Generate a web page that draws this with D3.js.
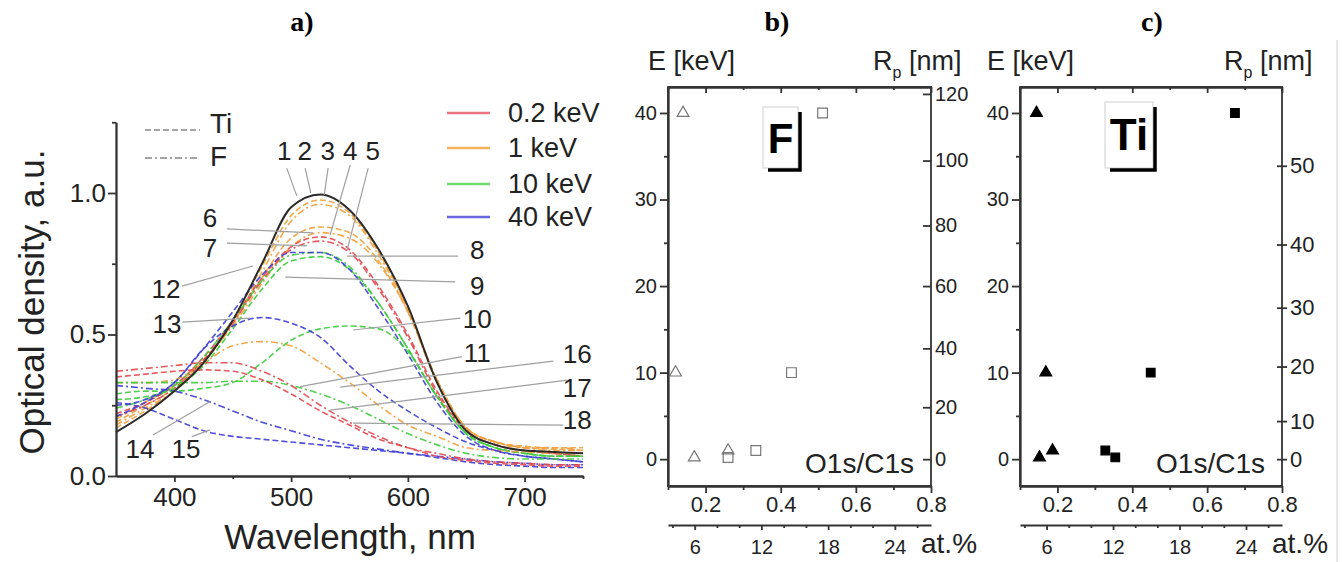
<!DOCTYPE html>
<html><head><meta charset="utf-8">
<script src="https://cdn.jsdelivr.net/npm/d3@7/dist/d3.min.js"></script>
<style>
body{margin:0;background:#fff;}
svg{display:block;}
</style></head><body>
<svg id="fig" width="1343" height="562"></svg>
<script>
// ---------------- DATA: panel a (optical density spectra) ----------------
const wavelengths=[350,375,400,425,450,475,500,525,550,575,600,625,650,675,700,725,750];
const od1 =[.155,.22,.30,.40,.55,.75,.95,.995,.94,.80,.60,.33,.16,.11,.09,.085,.08];
const od2 =[.17,.23,.30,.40,.55,.74,.92,.975,.93,.79,.59,.33,.17,.12,.105,.10,.10];
const od3 =[.18,.24,.30,.40,.54,.72,.90,.96,.92,.78,.59,.34,.17,.12,.10,.10,.09];
const od4 =[.19,.25,.31,.41,.54,.70,.84,.88,.86,.76,.58,.34,.17,.12,.10,.095,.09];
const od5 =[.20,.26,.32,.41,.53,.68,.81,.86,.84,.75,.58,.33,.17,.12,.10,.09,.09];
const od6 =[.22,.26,.32,.42,.55,.70,.81,.845,.80,.67,.50,.30,.16,.11,.09,.08,.07];
const od7 =[.21,.25,.31,.41,.54,.69,.80,.83,.79,.66,.49,.29,.16,.11,.09,.08,.07];
const od8 =[.24,.27,.32,.42,.55,.69,.78,.79,.74,.61,.45,.28,.15,.10,.08,.07,.07];
const od9 =[.27,.28,.31,.39,.52,.66,.76,.775,.73,.61,.45,.28,.15,.10,.08,.07,.07];
const od12=[.21,.26,.33,.45,.58,.71,.79,.79,.73,.59,.43,.26,.14,.09,.07,.06,.05];
const od10=[.29,.30,.30,.31,.33,.40,.48,.52,.53,.52,.44,.28,.15,.10,.08,.07,.07];
const od11=[.33,.33,.34,.40,.46,.475,.46,.40,.33,.25,.18,.14,.10,.09,.085,.08,.08];
const od13=[.25,.27,.33,.45,.53,.56,.54,.49,.39,.30,.23,.17,.12,.09,.07,.06,.05];
const od14=[.32,.31,.30,.27,.23,.19,.16,.13,.11,.095,.08,.07,.06,.05,.045,.04,.04];
const od15=[.26,.24,.20,.16,.14,.13,.12,.11,.10,.09,.08,.065,.05,.04,.035,.03,.03];
const od16=[.33,.33,.33,.33,.335,.335,.32,.29,.25,.20,.15,.11,.08,.065,.06,.06,.06];
const od17=[.37,.38,.39,.40,.40,.37,.32,.25,.19,.14,.10,.08,.06,.05,.045,.04,.04];
const od18=[.35,.36,.37,.375,.37,.34,.29,.23,.18,.13,.10,.07,.055,.045,.04,.035,.035];
const curveIds    =["2","3","4","5","6","7","8","9","12","10","11","13","14","15","16","17","18","1"];
const curveValues =[od2,od3,od4,od5,od6,od7,od8,od9,od12,od10,od11,od13,od14,od15,od16,od17,od18,od1];
const curveEnergy =["1","1","1","1","0.2","0.2","10","10","40","10","1","40","40","40","10","0.2","0.2","ref"];
const curveElement=["Ti","F","Ti","F","Ti","F","F","Ti","Ti","Ti","F","Ti","F","Ti","F","F","Ti","ref"];
const energyKeys  =["0.2","1","10","40"];
const energyLegend=["0.2 keV","1 keV","10 keV","40 keV"];
const elementLegend=["Ti","F"];
const xTicksA=[400,500,600,700], xMinorA=[450,550,650,750];
const yTicksA=[0,0.5,1.0], yMinorA=[0.25,0.75,1.25];
// curve number labels (wavelength, OD of text baseline)
const labelIds=["1","2","3","4","5","6","7","8","9","12","10","11","13","14","15","16","17","18"];
const labelWl =[494,511.6,531.3,550.6,569.9,430.6,430.6,659.4,659.4,392.9,659.4,659.4,393.7,370.6,410,745.1,745.1,745.1];
const labelOd =[1.117,1.117,1.117,1.117,1.117,0.880,0.774,0.767,0.640,0.629,0.523,0.403,0.505,0.064,0.064,0.399,0.279,0.166];
// leader lines from label to curve
const leadWl0=[496.3,512,531.7,550.6,566,445,445,643,640.6,406.6,406.6,644.9,646.3,724.6,736.6,733.1,381.7,414.9];
const leadOd0=[1.087,1.088,1.088,1.099,1.088,0.873,0.823,0.777,0.686,0.671,0.544,0.558,0.422,0.406,0.339,0.180,0.145,0.139];
const leadWl1=[504.9,516.9,528.3,533.4,548,518.9,513.7,548,494.9,467.4,464.9,553.1,507.7,542,533.4,553.1,430.6,430.6];
const leadOd1=[0.989,1.0,0.993,0.852,0.799,0.859,0.813,0.777,0.703,0.742,0.558,0.516,0.316,0.314,0.233,0.187,0.263,0.163];

// ---------------- DATA: panels b and c ----------------
const eTicks=[0,10,20,30,40], eMinor=[5,15,25,35];
const o1sTicks=[0.2,0.4,0.6,0.8], o1sMinor=[0.1,0.3,0.5,0.7];
const atTicks=[6,12,18,24], atMinor=[4,8,10,14,16,20,22,26];
const rpTicksF=[0,20,40,60,80,100,120], rpAtE_F=[0,6.0,12.8,20.0,27.0,34.5,42.2];
const rpTicksTi=[0,10,20,30,40,50], rpAtE_Ti=[0,4.4,10.7,17.5,24.8,33.9];
const fTriO1s=[0.14,0.12,0.17,0.26], fTriE=[40,10,0.2,1];
const fSqAt=[17.5,14.7,11.5,9.0],    fSqE=[40,10,1,0.2];
const tiTriO1s=[0.144,0.169,0.152,0.187], tiTriE=[40,10,0.2,1];
const tiSqAt=[23.0,15.4,11.3,12.2],       tiSqE=[40,10,1,0.2];

// ---------------- STYLE ----------------
const SANS="'Liberation Sans', Arial, Helvetica, sans-serif";
const SERIF="'Liberation Serif', 'Times New Roman', serif";
const AX="#333", TXT="#222";
const energyColor={"0.2":"#e04850","1":"#f0a03c","10":"#3ccc3c","40":"#3c3cd4","ref":"#2a2a2a"};
const legendColor={"0.2":"#ea7480","1":"#f6b05a","10":"#70da70","40":"#6868de"};
const dashFor={"Ti":"6,3","F":"7,3,2,3","ref":null};

const svg=d3.select("#fig");
svg.append("rect").attr("width",1343).attr("height",562).attr("fill","#fff");

function styleAxis(g,fs){
  g.selectAll("path.domain").attr("stroke",AX).attr("stroke-width",1.8);
  g.selectAll(".tick line").attr("stroke",AX).attr("stroke-width",1.8);
  g.selectAll("text").attr("font-family",SANS).attr("font-size",fs).attr("fill",TXT);
  g.attr("font-family",null).attr("font-size",null);
}

// ---------------- PANEL A ----------------
const xA=d3.scaleLinear().domain([350,750]).range([116,583]);
const yA=d3.scaleLinear().domain([0,1.25]).range([476,122.25]);
const gA=svg.append("g");

const line=d3.line().x((d,i)=>xA(wavelengths[i])).y(d=>yA(d)).curve(d3.curveMonotoneX);
curveValues.forEach((vals,k)=>{
  const el=curveElement[k];
  gA.append("path").datum(vals).attr("d",line)
    .attr("fill","none")
    .attr("stroke",energyColor[curveEnergy[k]])
    .attr("stroke-width",el==="ref"?2:1.6)
    .attr("stroke-dasharray",dashFor[el])
    .attr("opacity",el==="ref"?1:0.9);
});

// leaders
leadWl0.forEach((w,i)=>{
  gA.append("line").attr("x1",xA(w)).attr("y1",yA(leadOd0[i])).attr("x2",xA(leadWl1[i])).attr("y2",yA(leadOd1[i]))
    .attr("stroke","#a0a0a0").attr("stroke-width",1.2);
});
// labels
labelIds.forEach((t,i)=>{
  gA.append("text").attr("x",xA(labelWl[i])).attr("y",yA(labelOd[i])).attr("text-anchor","middle")
    .attr("font-family",SANS).attr("font-size",26).attr("fill",TXT).text(t);
});

// axes
const axXA=gA.append("g").attr("transform","translate(0,476)")
  .call(d3.axisBottom(xA).tickValues(xTicksA).tickSize(6).tickPadding(6).tickSizeOuter(0).tickFormat(d3.format("d")));
styleAxis(axXA,26);
const axXAm=gA.append("g").attr("transform","translate(0,476)")
  .call(d3.axisBottom(xA).tickValues(xMinorA).tickSize(3).tickSizeOuter(0).tickFormat(""));
styleAxis(axXAm,10);
const axYA=gA.append("g").attr("transform","translate(116,0)")
  .call(d3.axisLeft(yA).tickValues(yTicksA).tickSize(8).tickPadding(2).tickSizeOuter(0).tickFormat(d3.format(".1f")));
styleAxis(axYA,26);
const axYAm=gA.append("g").attr("transform","translate(116,0)")
  .call(d3.axisLeft(yA).tickValues(yMinorA).tickSize(4).tickSizeOuter(0).tickFormat(""));
styleAxis(axYAm,10);

gA.append("text").attr("x",350).attr("y",549).attr("text-anchor","middle")
  .attr("font-family",SANS).attr("font-size",35).attr("fill",TXT).text("Wavelength, nm");
gA.append("text").attr("transform","translate(44,302) rotate(-90)").attr("text-anchor","middle")
  .attr("font-family",SANS).attr("font-size",35).attr("fill",TXT).text("Optical density, a.u.");

// element legend (line style)
const elY=[130,158], elTextY=[133,166];
elementLegend.forEach((el,i)=>{
  gA.append("line").attr("x1",145).attr("x2",200).attr("y1",elY[i]).attr("y2",elY[i])
    .attr("stroke","#888").attr("stroke-width",1.6).attr("stroke-dasharray",dashFor[el]);
  gA.append("text").attr("x",210).attr("y",elTextY[i]).attr("font-family",SANS).attr("font-size",28).attr("fill",TXT).text(el);
});
// energy legend (colour)
const enY=[113,148,184,217];
energyKeys.forEach((k,i)=>{
  gA.append("line").attr("x1",447).attr("x2",490).attr("y1",enY[i]).attr("y2",enY[i])
    .attr("stroke",legendColor[k]).attr("stroke-width",2.5);
  gA.append("text").attr("x",508).attr("y",enY[i]+9).attr("font-family",SANS).attr("font-size",27).attr("fill",TXT).text(energyLegend[i]);
});

// ---------------- PANELS B, C ----------------
const yE=d3.scaleLinear().domain([-3.1,43]).range([486,87]);

function drawPanel(p){
  const g=svg.append("g");
  const xO=d3.scaleLinear().domain([0.1,0.8]).range([p.x0,p.x1]);
  const xAt=d3.scaleLinear().domain([3.6,27.25]).range([p.x0,p.x1]);
  const rp=d3.scaleLinear().domain(p.rpTicks).range(p.rpAtE.map(yE));

  g.append("rect").attr("x",p.x0).attr("y",yE(43)).attr("width",p.x1-p.x0).attr("height",yE(-3.1)-yE(43))
    .attr("fill","none").attr("stroke",AX).attr("stroke-width",1.8);

  let a=g.append("g").attr("transform",`translate(${p.x0},0)`)
    .call(d3.axisLeft(yE).tickValues(eTicks).tickSize(8).tickPadding(3).tickSizeOuter(0).tickFormat(d3.format("d")));
  styleAxis(a,20);
  a=g.append("g").attr("transform",`translate(${p.x0},0)`)
    .call(d3.axisLeft(yE).tickValues(eMinor).tickSize(4).tickSizeOuter(0).tickFormat(""));
  styleAxis(a,10);

  a=g.append("g").attr("transform",`translate(${p.x1},0)`)
    .call(d3.axisRight(rp).tickValues(p.rpTicks).tickSize(p.rpCross?5:-8).tickPadding(p.rpCross?3:4).tickSizeOuter(0).tickFormat(d3.format("d")));
  styleAxis(a,p.rpFont);
  a.select("path.domain").remove();
  if(p.rpCross) a.selectAll(".tick line").attr("x1",-5);

  const yb=yE(-3.1);
  a=g.append("g").attr("transform",`translate(0,${yb})`)
    .call(d3.axisBottom(xO).tickValues(o1sTicks).tickSize(7).tickPadding(3).tickSizeOuter(0).tickFormat(d3.format(".1f")));
  styleAxis(a,22);
  a=g.append("g").attr("transform",`translate(0,${yb})`)
    .call(d3.axisBottom(xO).tickValues(o1sMinor).tickSize(4).tickSizeOuter(0).tickFormat(""));
  styleAxis(a,10);
  a=g.append("g").attr("transform",`translate(0,${yE(43)})`)
    .call(d3.axisTop(xO).tickValues(o1sTicks).tickSize(-6).tickSizeOuter(0).tickFormat(""));
  styleAxis(a,10);
  a=g.append("g").attr("transform",`translate(0,${yE(43)})`)
    .call(d3.axisTop(xO).tickValues(o1sMinor).tickSize(-3).tickSizeOuter(0).tickFormat(""));
  styleAxis(a,10);

  a=g.append("g").attr("transform","translate(0,525)")
    .call(d3.axisBottom(xAt).tickValues(atTicks).tickSize(5).tickPadding(10).tickSizeOuter(0).tickFormat(d3.format("d")));
  styleAxis(a,20);
  a.select("path.domain").attr("stroke-width",2.2);
  a=g.append("g").attr("transform","translate(0,525)")
    .call(d3.axisBottom(xAt).tickValues(atMinor).tickSize(3).tickSizeOuter(0).tickFormat(""));
  styleAxis(a,10);
  a.select("path.domain").remove();

  g.append("text").attr("x",p.x1-10).attr("y",553).attr("font-family",SANS).attr("font-size",28).attr("fill",TXT).text("at.%");
  g.append("text").attr("x",p.x1-17).attr("y",473).attr("text-anchor","end").attr("font-family",SANS).attr("font-size",28).attr("fill",TXT).text("O1s/C1s");
  g.append("text").attr("x",p.eLabelX).attr("y",70).attr("font-family",SANS).attr("font-size",27).attr("fill",TXT).text("E [keV]");
  const rt=g.append("text").attr("x",p.x1-58).attr("y",70).attr("font-family",SANS).attr("font-size",27).attr("fill",TXT);
  rt.append("tspan").text("R");
  rt.append("tspan").attr("dy",8).attr("font-size",16).text("p");
  rt.append("tspan").attr("dy",-8).text(" [nm]");

  // label box with shadow
  const b=p.box;
  g.append("rect").attr("x",b[0]).attr("y",b[1]).attr("width",b[2]-b[0]).attr("height",b[3]-b[1])
    .attr("fill","#fff").attr("stroke","#cfcfcf").attr("stroke-width",1);
  g.append("path").attr("d",`M${b[2]+2},${b[1]+5}V${b[3]+2}H${b[0]+5}`).attr("fill","none").attr("stroke","#000").attr("stroke-width",3.5);
  g.append("text").attr("x",(b[0]+b[2])/2).attr("y",p.boxBase).attr("text-anchor","middle")
    .attr("font-family",SANS).attr("font-weight","bold").attr("font-size",p.boxFont).attr("fill","#000").text(p.boxText);

  // markers
  const tri=d3.symbol(d3.symbolTriangle,p.triSize), sq=d3.symbol(d3.symbolSquare,p.sqSize);
  p.triX.forEach((v,i)=>{
    g.append("path").attr("d",tri()).attr("transform",`translate(${xO(v)},${yE(p.triE[i])})`)
      .attr("fill",p.filled?"#000":"none").attr("stroke",p.filled?"#000":"#777").attr("stroke-width",1.2);
  });
  p.sqX.forEach((v,i)=>{
    g.append("path").attr("d",sq()).attr("transform",`translate(${xAt(v)},${yE(p.sqE[i])})`)
      .attr("fill",p.filled?"#000":"none").attr("stroke",p.filled?"#000":"#777").attr("stroke-width",1.2);
  });
  g.append("text").attr("x",p.titleX).attr("y",31).attr("text-anchor","middle")
    .attr("font-family",SERIF).attr("font-weight","bold").attr("font-size",28).attr("fill","#000").text(p.title);
}

drawPanel({x0:668,x1:931,rpTicks:rpTicksF,rpAtE:rpAtE_F,rpCross:false,rpFont:20,eLabelX:648,
  box:[763,107,798,168],boxText:"F",boxFont:42,boxBase:153,
  triX:fTriO1s,triE:fTriE,sqX:fSqAt,sqE:fSqE,filled:false,triSize:60,sqSize:95,title:"b)",titleX:777});
drawPanel({x0:1020,x1:1282,rpTicks:rpTicksTi,rpAtE:rpAtE_Ti,rpCross:true,rpFont:22,eLabelX:987,
  box:[1105,102,1153,168],boxText:"Ti",boxFont:44,boxBase:150,
  triX:tiTriO1s,triE:tiTriE,sqX:tiSqAt,sqE:tiSqE,filled:true,triSize:60,sqSize:75,title:"c)",titleX:1152});

gA.append("text").attr("x",302).attr("y",31).attr("text-anchor","middle")
  .attr("font-family",SERIF).attr("font-weight","bold").attr("font-size",28).attr("fill","#000").text("a)");

svg.append("line").attr("x1",1337).attr("x2",1337).attr("y1",40).attr("y2",562).attr("stroke","#e2e2e2").attr("stroke-width",1.5);
</script>
</body></html>
